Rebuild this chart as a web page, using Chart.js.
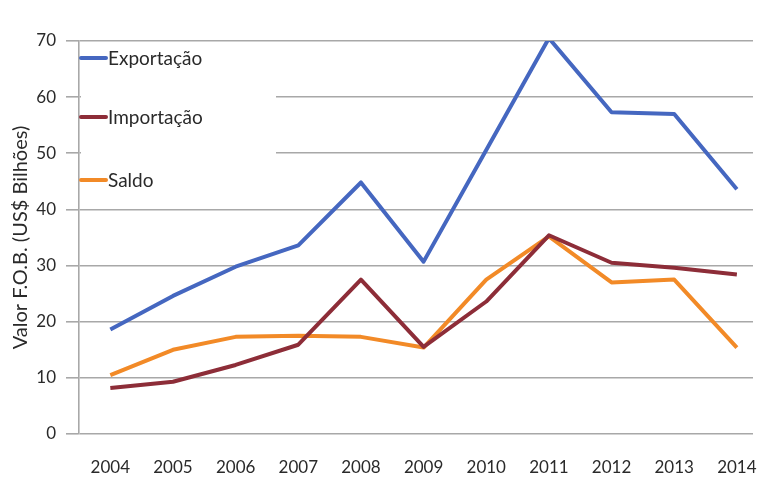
<!DOCTYPE html>
<html>
<head>
<meta charset="utf-8">
<script src="https://cdn.jsdelivr.net/npm/chart.js@4/dist/chart.umd.min.js"></script>
<style>
  html, body { margin: 0; padding: 0; background: #fff; overflow: hidden; }
  #wrap { width: 757px; height: 481px; overflow: hidden; }
  canvas { display: block; }
</style>
</head>
<body>
<div id="wrap"><canvas id="c" width="780" height="481"></canvas></div>
<script>
// Balança comercial (US$ bilhões, F.O.B.)
const years = ['2004', '2005', '2006', '2007', '2008', '2009', '2010', '2011', '2012', '2013', '2014'];
const exportacao = [18.6, 24.6, 29.8, 33.6, 44.8, 30.7, 50.6, 70.5, 57.3, 57.0, 43.6];
const importacao = [8.2, 9.3, 12.3, 15.9, 27.5, 15.5, 23.6, 35.4, 30.5, 29.6, 28.4];
const saldo = [10.5, 15.0, 17.3, 17.5, 17.3, 15.4, 27.5, 35.2, 27.0, 27.5, 15.4];
const yTicks = [0, 10, 20, 30, 40, 50, 60, 70];

const FONT = 'Lato, "Open Sans", sans-serif';
const TEXT = '#2a2a2a';
const GRID = '#a8a8a8';
const GRID_END = 753; // gridlines stop here; the frame is trimmed at the page edge

// Legend drawn inside the plot, on a white panel over the upper-left gridlines
const insideLegend = {
  id: 'insideLegend',
  beforeDatasetsDraw(chart) {
    const ctx = chart.ctx;
    const a = chart.chartArea;
    ctx.save();
    ctx.fillStyle = '#ffffff';
    ctx.fillRect(GRID_END, a.top - 3, chart.width - GRID_END, a.bottom - a.top + 6);
    ctx.fillRect(a.left + 2, 47, 195, 158);
    const rows = [58, 117, 180];
    ctx.font = '19px ' + FONT;
    ctx.textBaseline = 'middle';
    chart.data.datasets.forEach((ds, i) => {
      ctx.strokeStyle = ds.borderColor;
      ctx.lineWidth = 4;
      ctx.lineCap = 'round';
      ctx.beginPath();
      ctx.moveTo(a.left + 2, rows[i]);
      ctx.lineTo(a.left + 27, rows[i]);
      ctx.stroke();
      ctx.fillStyle = TEXT;
      ctx.fillText(ds.label, a.left + 29, rows[i] + 1);
    });
    ctx.restore();
  }
};

new Chart(document.getElementById('c'), {
  type: 'line',
  data: {
    labels: years,
    datasets: [
      { label: 'Exportação', data: exportacao, borderColor: '#4567c0' },
      { label: 'Importação', data: importacao, borderColor: '#8d2d38' },
      { label: 'Saldo', data: saldo, borderColor: '#f28a27' }
    ].map(d => Object.assign(d, {
      borderWidth: 4, pointRadius: 0, tension: 0, fill: false,
      borderJoinStyle: 'round', borderCapStyle: 'butt'
    }))
  },
  options: {
    responsive: false,
    animation: false,
    layout: { padding: { top: 41, right: 9, bottom: 0, left: 0 } },
    plugins: { legend: { display: false }, tooltip: { enabled: false } },
    scales: {
      x: {
        offset: true,
        grid: { display: false, drawTicks: false },
        border: { display: false },
        ticks: { color: TEXT, font: { family: FONT, size: 17 }, padding: 23, maxRotation: 0 },
        afterFit(s) { s.height = 47; }
      },
      y: {
        min: 0, max: 70,
        afterBuildTicks(s) { s.ticks = yTicks.map(v => ({ value: v })); },
        grid: { color: GRID, lineWidth: 1.6, tickLength: 13 },
        border: { color: GRID, width: 1.6 },
        ticks: { color: TEXT, font: { family: FONT, size: 17 }, padding: 10 },
        title: {
          display: true, text: 'Valor F.O.B. (US$ Bilhões)', color: TEXT,
          font: { family: FONT, size: 20 }, padding: { top: 9, bottom: 0 }
        },
        afterFit(s) { s.width = 79; }
      }
    }
  },
  plugins: [insideLegend]
});
</script>
</body>
</html>
